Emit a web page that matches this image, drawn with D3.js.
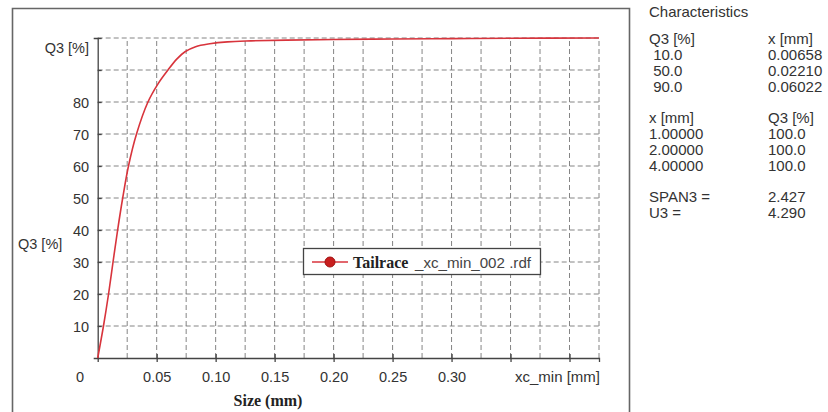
<!DOCTYPE html>
<html><head><meta charset="utf-8">
<script src="https://cdn.jsdelivr.net/npm/d3@7"></script>
<style>
html,body{margin:0;padding:0;background:#fff;}
svg{display:block;font-family:"Liberation Sans",Arial,sans-serif;}
</style></head>
<body>
<svg id="c" width="828" height="412"></svg>
<script>
// ---- data ----
const sizes = [0, 0.0049, 0.0092, 0.0130, 0.0169, 0.0212, 0.0261, 0.0329, 0.0426, 0.0510, 0.0596, 0.0670, 0.0740, 0.0830, 0.0950, 0.110, 0.130, 0.160, 0.200, 0.250, 0.300, 0.350, 0.425];
const q3    = [0, 10, 20, 30, 40, 50, 60, 70, 80, 85.6, 90, 93.4, 95.7, 97.3, 98.2, 98.8, 99.1, 99.35, 99.55, 99.7, 99.8, 99.9, 100];
const xTickValues = [0.05, 0.10, 0.15, 0.20, 0.25, 0.30, 0.35, 0.40];
const xTickLabels = ["0.05", "0.10", "0.15", "0.20", "0.25", "0.30", "", ""];
const yTickValues = [10, 20, 30, 40, 50, 60, 70, 80, 90, 100];
const yTickLabels = ["10", "20", "30", "40", "50", "60", "70", "80", "", ""];
const xGrid = d3.range(1, 18).map(i => i * 0.025);
const legendName = ["Tailrace", "_xc_min_002 .rdf"];
const charTitle = "Characteristics";
const charRows = [
  ["Q3 [%]", "x [mm]"], [" 10.0", "0.00658"], [" 50.0", "0.02210"], [" 90.0", "0.06022"],
  null,
  ["x [mm]", "Q3 [%]"], ["1.00000", "100.0"], ["2.00000", "100.0"], ["4.00000", "100.0"],
  null,
  ["SPAN3 =", "2.427"], ["U3 =", "4.290"]
];

const svg = d3.select("#c");
const x = d3.scaleLinear().domain([0, 0.425]).range([97.7, 599]);
const y = d3.scaleLinear().domain([0, 100]).range([358, 38]);
const gridCol = "#777", textCol = "#333";
const FS = 14.5;
const SANS = "'Liberation Sans', Arial, sans-serif";
const SERIF = "'Liberation Serif', 'Times New Roman', serif";

// frame
svg.append("path").attr("d", "M12.5,412 V8.5 H629.5 V412")
  .attr("fill", "none").attr("stroke", "#666").attr("stroke-width", 1.6);

// grid
const g = svg.append("g");
g.selectAll(".hg").data(yTickValues).join("line")
  .attr("x1", x(0)).attr("x2", x(0.425)).attr("y1", d => y(d)).attr("y2", d => y(d))
  .attr("stroke", gridCol).attr("stroke-width", 0.9).attr("stroke-dasharray", "5,3");
g.selectAll(".vg").data(xGrid).join("line")
  .attr("x1", d => x(d)).attr("x2", d => x(d)).attr("y1", y(0)).attr("y2", y(100))
  .attr("stroke", gridCol).attr("stroke-width", 0.9).attr("stroke-dasharray", "5,3");

// axes
const xAxis = d3.axisBottom(x).tickValues(xTickValues).tickSize(4).tickFormat((d, i) => xTickLabels[i]);
const gx = svg.append("g").attr("transform", `translate(0,${y(0)})`).call(xAxis);
gx.select(".domain").attr("stroke", "#444").attr("stroke-width", 1.3);
gx.selectAll(".tick line").attr("y1", -4).attr("stroke", "#444").attr("stroke-width", 1.3);
gx.selectAll(".tick text").attr("font-size", FS).attr("fill", textCol).attr("dy", 0).attr("y", 23.5)
  .attr("font-family", SANS);

const yAxis = d3.axisLeft(y).tickValues(yTickValues).tickSize(4).tickFormat((d, i) => yTickLabels[i]);
const gy = svg.append("g").attr("transform", `translate(${x(0)},0)`).call(yAxis);
gy.select(".domain").attr("stroke", "#444").attr("stroke-width", 1.3);
gy.selectAll(".tick line").attr("x2", 4).attr("stroke", "#444").attr("stroke-width", 1.3);
gy.selectAll(".tick text").attr("font-size", FS).attr("fill", textCol).attr("x", -8.5).attr("dy", "0.35em")
  .attr("font-family", SANS);

// axis labels
svg.append("text").attr("x", 80).attr("y", 381.5).attr("text-anchor", "middle")
  .attr("font-size", FS).attr("fill", textCol).text("0");
svg.append("text").attr("x", 600).attr("y", 381.5).attr("text-anchor", "end")
  .attr("font-size", 15).attr("fill", textCol).text("xc_min [mm]");
svg.append("text").attr("x", 89).attr("y", 52.5).attr("text-anchor", "end")
  .attr("font-size", FS).attr("fill", textCol).text("Q3 [%]");
svg.append("text").attr("x", 18).attr("y", 248.5)
  .attr("font-size", FS).attr("fill", textCol).text("Q3 [%]");
svg.append("text").attr("x", 268).attr("y", 405.5).attr("text-anchor", "middle")
  .attr("font-family", SERIF).attr("font-weight", "bold")
  .attr("font-size", 16).attr("fill", "#222").text("Size (mm)");

// curve
const pts = sizes.map((s, i) => [s, q3[i]]);
const line = d3.line().x(d => x(d[0])).y(d => y(d[1])).curve(d3.curveCatmullRom.alpha(0.5));
svg.append("path").datum(pts).attr("d", line)
  .attr("fill", "none").attr("stroke", "#d8343c").attr("stroke-width", 1.6);

// legend
const lg = svg.append("g");
lg.append("rect").attr("x", 303.5).attr("y", 248.5).attr("width", 237).attr("height", 26)
  .attr("fill", "#fff").attr("stroke", "#444").attr("stroke-width", 1.3);
lg.append("line").attr("x1", 312).attr("x2", 348).attr("y1", 262).attr("y2", 262)
  .attr("stroke", "#d8343c").attr("stroke-width", 1.5);
lg.append("circle").attr("cx", 330).attr("cy", 262).attr("r", 5).attr("fill", "#c81e1e").attr("stroke", "#a01010");
lg.append("text").attr("x", 353).attr("y", 267.5).attr("font-size", 16).attr("fill", "#222")
  .attr("font-family", SERIF).attr("font-weight", "bold").text(legendName[0]);
lg.append("text").attr("x", 415).attr("y", 267.5).attr("font-size", 15).attr("fill", "#444")
  .attr("font-family", SANS).attr("textLength", 116).attr("lengthAdjust", "spacingAndGlyphs").text(legendName[1]);

// characteristics panel
const cp = svg.append("g").attr("font-size", 15).attr("fill", textCol);
cp.append("text").attr("x", 649).attr("y", 17).text(charTitle);
let yy = 44;
charRows.forEach(r => {
  if (r === null) { yy += 15; return; }
  cp.append("text").attr("x", 649).attr("y", yy).attr("xml:space", "preserve").style("white-space", "pre").text(r[0]);
  cp.append("text").attr("x", 768).attr("y", yy).text(r[1]);
  yy += 16;
});
</script>
</body></html>
